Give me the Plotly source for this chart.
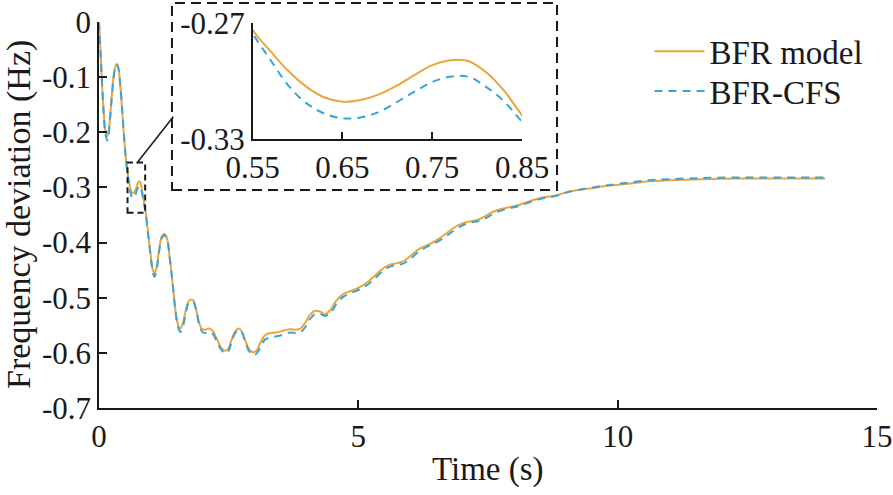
import plotly.graph_objects as go

# ---------------- data ----------------
time_s = [0.00, 0.03, 0.06, 0.09, 0.12, 0.16, 0.19, 0.22, 0.25, 0.28, 0.31, 0.34, 0.37,
          0.41, 0.45, 0.49, 0.52, 0.55, 0.57, 0.59, 0.61, 0.63, 0.65, 0.67,
          0.69, 0.71, 0.73, 0.75, 0.77, 0.79, 0.81, 0.83, 0.85, 0.90, 0.95,
          1.00, 1.04, 1.07, 1.11, 1.16, 1.21, 1.26, 1.31, 1.36, 1.42, 1.47, 1.52, 1.57,
          1.62, 1.68, 1.74, 1.81, 1.87, 1.93, 1.99, 2.05, 2.12, 2.19, 2.26, 2.34, 2.42,
          2.48, 2.55, 2.62, 2.69, 2.75, 2.82, 2.90, 2.98, 3.05, 3.12, 3.20, 3.30, 3.42,
          3.55, 3.68, 3.80, 3.88, 3.98, 4.06, 4.16, 4.26, 4.36, 4.46, 4.58, 4.70, 4.82,
          4.95, 5.08, 5.20, 5.32, 5.45, 5.58, 5.72, 5.84, 5.96, 6.08, 6.20, 6.32, 6.45,
          6.57, 6.70, 6.83, 6.96, 7.08, 7.20, 7.32, 7.45, 7.58, 7.72, 7.86, 8.00, 8.15,
          8.30, 8.44, 8.58, 8.73, 8.90, 9.05, 9.21, 9.47, 9.72, 9.98, 10.24, 10.60, 11.00,
          11.60, 12.30, 13.00, 14.00]

bfr_model = [0.000, -0.055, -0.115, -0.163, -0.195, -0.207, -0.195, -0.165, -0.130, -0.100,
             -0.083, -0.076, -0.082, -0.115, -0.165, -0.218, -0.250, -0.2738, -0.2848, -0.2950,
             -0.3030, -0.3085, -0.3107, -0.3098, -0.3070, -0.3025, -0.2970, -0.2918, -0.2893,
             -0.2897, -0.2955, -0.3050, -0.3175, -0.345, -0.385, -0.425,
             -0.450, -0.456, -0.445, -0.412, -0.389, -0.384, -0.392, -0.425, -0.475, -0.520,
             -0.548, -0.556, -0.545, -0.520, -0.505, -0.504, -0.520, -0.545, -0.557, -0.558,
             -0.556, -0.560, -0.572, -0.588, -0.596, -0.594, -0.578, -0.562, -0.556, -0.561,
             -0.578, -0.594, -0.599, -0.594, -0.580, -0.568, -0.564, -0.563, -0.560, -0.557,
             -0.558, -0.556, -0.545, -0.532, -0.524, -0.525, -0.530, -0.522, -0.505, -0.494,
             -0.489, -0.484, -0.478, -0.470, -0.460, -0.449, -0.441, -0.438, -0.435, -0.428,
             -0.418, -0.410, -0.405, -0.399, -0.392, -0.383, -0.374, -0.367, -0.363, -0.361,
             -0.358, -0.352, -0.345, -0.340, -0.337, -0.334, -0.330, -0.325, -0.321, -0.318,
             -0.316, -0.312, -0.308, -0.305, -0.302, -0.298, -0.2955, -0.293, -0.289, -0.287,
             -0.285, -0.284, -0.284, -0.284]

bfr_cfs = [0.000, -0.054, -0.114, -0.165, -0.200, -0.215, -0.201, -0.168, -0.132, -0.102,
           -0.084, -0.077, -0.082, -0.114, -0.163, -0.216, -0.249, -0.2755, -0.2893, -0.3025,
           -0.3115, -0.3168, -0.3192, -0.3188, -0.3160, -0.3110, -0.3055, -0.3005, -0.2978,
           -0.2978, -0.3030, -0.3105, -0.3210, -0.348, -0.388, -0.428,
           -0.455, -0.462, -0.450, -0.416, -0.392, -0.387, -0.393, -0.425, -0.474, -0.521,
           -0.552, -0.562, -0.552, -0.525, -0.508, -0.507, -0.521, -0.548, -0.562, -0.564,
           -0.562, -0.565, -0.577, -0.592, -0.600, -0.599, -0.583, -0.565, -0.559, -0.562,
           -0.580, -0.598, -0.604, -0.600, -0.588, -0.576, -0.572, -0.570, -0.567, -0.563,
           -0.564, -0.563, -0.553, -0.540, -0.530, -0.529, -0.533, -0.528, -0.511, -0.499,
           -0.493, -0.488, -0.482, -0.475, -0.465, -0.454, -0.445, -0.441, -0.439, -0.433,
           -0.423, -0.414, -0.408, -0.402, -0.396, -0.388, -0.379, -0.371, -0.366, -0.363,
           -0.361, -0.356, -0.349, -0.343, -0.339, -0.336, -0.332, -0.327, -0.323, -0.319,
           -0.317, -0.313, -0.308, -0.305, -0.301, -0.297, -0.294, -0.291, -0.287, -0.285,
           -0.283, -0.282, -0.282, -0.282]

x_tick_vals = [0, 5, 10, 15]
x_tick_text = ["0", "5", "10", "15"]
y_tick_vals = [0, -0.1, -0.2, -0.3, -0.4, -0.5, -0.6, -0.7]
y_tick_text = ["0", "-0.1", "-0.2", "-0.3", "-0.4", "-0.5", "-0.6", "-0.7"]
inset_x_tick_vals = [0.55, 0.65, 0.75, 0.85]
inset_x_tick_text = ["0.55", "0.65", "0.75", "0.85"]
inset_y_tick_vals = [-0.33, -0.27]
inset_y_tick_text = ["-0.33", "-0.27"]

# ---------------- style ----------------
ORANGE = "#EDA43A"
BLUE = "#35A6D6"
INK = "#1a1a1a"
FONT = "Liberation Serif"
FS_TICK = 31
FS_TEXT = 33

fig = go.Figure()
for xa, ya, show in [("x", "y", True), ("x2", "y2", False)]:
    fig.add_trace(go.Scatter(x=time_s, y=bfr_model, name="BFR model", mode="lines",
                             line=dict(color=ORANGE, width=2, shape="spline", smoothing=1.0),
                             xaxis=xa, yaxis=ya, showlegend=show, legend="legend"))
    fig.add_trace(go.Scatter(x=time_s, y=bfr_cfs, name="BFR-CFS", mode="lines",
                             line=dict(color=BLUE, width=2, dash="8px,6px", shape="spline", smoothing=1.0),
                             xaxis=xa, yaxis=ya, showlegend=show, legend="legend2"))

axis_common = dict(showline=True, linecolor=INK, linewidth=1.5, ticks="inside", ticklen=8,
                   tickwidth=1.5, tickcolor=INK, showgrid=False, zeroline=False,
                   tickfont=dict(family=FONT, size=FS_TICK, color=INK), mirror=False,
                   automargin=False)

legend_common = dict(xanchor="left", yanchor="top", bgcolor="rgba(0,0,0,0)",
                     font=dict(family=FONT, size=FS_TEXT, color=INK), itemwidth=50)

fig.update_layout(
    width=893, height=495,
    margin=dict(l=99, r=16, t=22, b=87),
    paper_bgcolor="white", plot_bgcolor="white",
    font=dict(family=FONT, size=FS_TICK, color=INK),
    xaxis=dict(range=[0, 15], domain=[0, 1], anchor="y", tickmode="array",
               tickvals=x_tick_vals, ticktext=x_tick_text, **axis_common),
    yaxis=dict(range=[-0.7, 0], domain=[0, 1], anchor="x", tickmode="array",
               tickvals=y_tick_vals, ticktext=y_tick_text, **axis_common),
    xaxis2=dict(range=[0.55, 0.85], domain=[0.1976, 0.5437], anchor="y2", tickmode="array",
                tickvals=inset_x_tick_vals, ticktext=inset_x_tick_text, **axis_common),
    yaxis2=dict(range=[-0.33, -0.27], domain=[0.6961, 0.9982], anchor="x2", tickmode="array",
                tickvals=inset_y_tick_vals, ticktext=inset_y_tick_text, **axis_common),
    legend=dict(x=0.7076, y=0.9966, **legend_common),
    legend2=dict(x=0.7076, y=0.8936, **legend_common),
    annotations=[
        dict(text="Time (s)", xref="paper", yref="paper", x=0.5, y=-0.1606,
             xanchor="center", yanchor="middle", showarrow=False,
             font=dict(family=FONT, size=FS_TEXT, color=INK)),
        dict(text="Frequency deviation (Hz)", xref="paper", yref="paper", x=-0.1028, y=0.5,
             xanchor="center", yanchor="middle", textangle=-90, showarrow=False,
             font=dict(family=FONT, size=34, color=INK)),
    ],
    shapes=[
        dict(type="rect", xref="paper", yref="paper", x0=0.0938, x1=0.5887, y0=0.5648, y1=1.049,
             line=dict(color=INK, width=2, dash="10px,6px"), fillcolor="rgba(0,0,0,0)"),
        dict(type="rect", xref="x", yref="y", x0=0.55, x1=0.89, y0=-0.346, y1=-0.255,
             line=dict(color=INK, width=2, dash="6px,4px"), fillcolor="rgba(0,0,0,0)"),
        dict(type="line", xref="paper", yref="paper", x0=0.0485, y0=0.634, x1=0.0955, y1=0.7547,
             line=dict(color=INK, width=1.5)),
    ],
)

fig.write_html("out.html", config={"displayModeBar": False},
               post_script="document.body.style.margin='0';")
